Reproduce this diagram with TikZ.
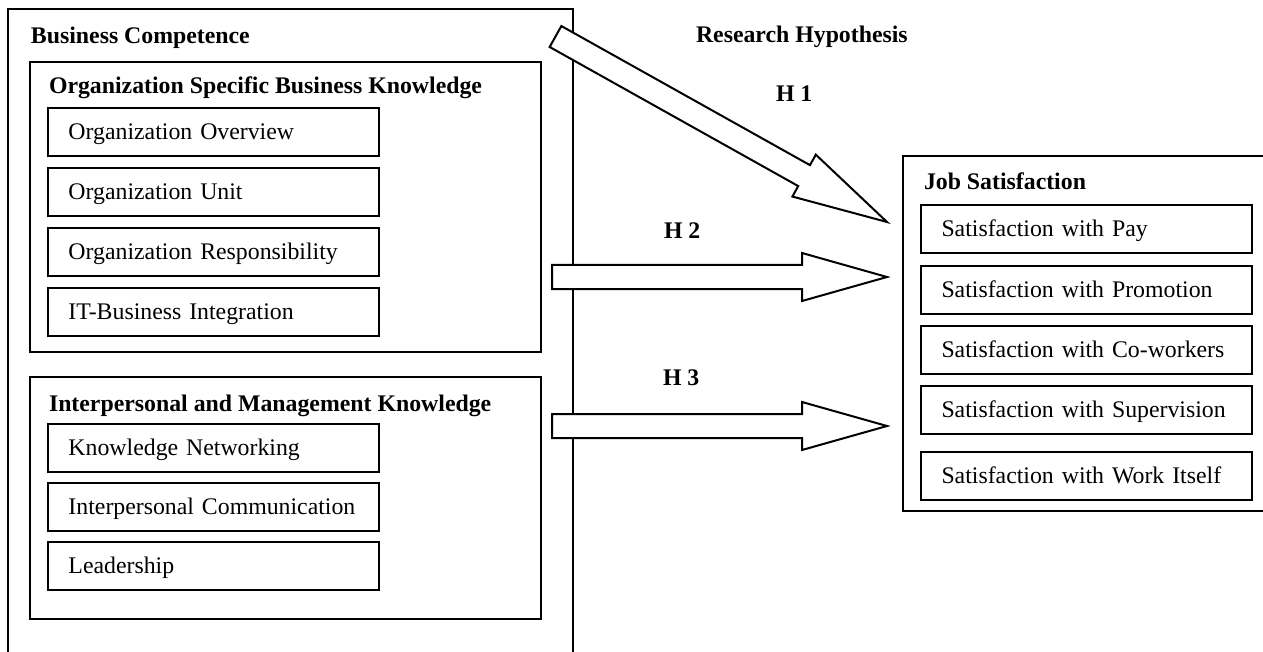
\documentclass[tikz,border=0pt]{standalone}
\usepackage{fontspec}
\setmainfont{Liberation Serif}
\usetikzlibrary{positioning, calc}

\tikzset{
  itembox/.style={draw, rectangle, anchor=north west, minimum width=165.5pt, minimum height=24pt,
    text width=145pt, text height=0.85em, text depth=0.1em, inner xsep=10pt, inner ysep=0pt,
    outer sep=0pt, align=left, font=\fontsize{11.9}{14}\selectfont},
  heading/.style={anchor=base west, inner sep=0pt, font=\fontsize{11.9}{14}\selectfont\bfseries},
  fatarrow/.style={draw, fill=white, line join=miter},
}

% block arrow: tail, tip, head length
\newcommand{\hyparrow}[3]{%
  \coordinate (headbase) at ($(#2)!#3!(#1)$);
  \draw[fatarrow] ($(#1)!6pt!90:(#2)$) -- ($(headbase)!6pt!90:(#2)$) -- ($(headbase)!12pt!90:(#2)$)
    -- (#2) -- ($(headbase)!12pt!-90:(#2)$) -- ($(headbase)!6pt!-90:(#2)$) -- ($(#1)!6pt!-90:(#2)$) -- cycle;
}

\begin{document}
\begin{tikzpicture}[x=0.5pt, y=-0.5pt, line width=1pt]
  \useasboundingbox (0,0) rectangle (1263,652);

  % business competence
  \draw (8,9) rectangle (573,690);
  \node[heading] (bc) at (30,44) {Business Competence};

  \draw (30,62) rectangle (541,352);
  \node[heading] (osbk) at (48,94) {Organization Specific Business Knowledge};
  \node[itembox] (ov) at (48,108) {Organization Overview};
  \node[itembox, below=6pt of ov] (unit) {Organization Unit};
  \node[itembox, below=6pt of unit] (resp) {Organization Responsibility};
  \node[itembox, below=6pt of resp] (itbi) {IT-Business Integration};

  \draw (30,377) rectangle (541,619);
  \node[heading] (imk) at (48,411) {Interpersonal and Management Knowledge};
  \node[itembox] (kn) at (48,424) {Knowledge Networking};
  \node[itembox, below=5.5pt of kn] (ic) {Interpersonal Communication};
  \node[itembox, below=5.5pt of ic] (lead) {Leadership};

  % job satisfaction
  \draw (903,156) rectangle (1270,511);
  \node[heading] (js) at (923,190) {Job Satisfaction};
  \node[itembox] (pay) at (921,205) {Satisfaction with Pay};
  \node[itembox, below=6.5pt of pay] (prom) {Satisfaction with Promotion};
  \node[itembox, below=6pt of prom] (cowork) {Satisfaction with Co-workers};
  \node[itembox, below=6pt of cowork] (superv) {Satisfaction with Supervision};
  \node[itembox, below=9pt of superv] (work) {Satisfaction with Work Itself};

  % hypotheses
  \node[heading] (research) at (695,43) {Research Hypothesis};
  \node[heading] (h1) at (775,102) {H 1};
  \node[heading] (h2) at (663,239) {H 2};
  \node[heading] (h3) at (662,385) {H 3};

  \coordinate (h1tail) at (555.5,36.5);
  \coordinate (h1tip) at (887,222);
  \coordinate (h2tail) at (552,277);
  \coordinate (h2tip) at (887,277);
  \coordinate (h3tail) at (552,426);
  \coordinate (h3tip) at (887,426);
  \hyparrow{h1tail}{h1tip}{47.5pt}
  \hyparrow{h2tail}{h2tip}{42.5pt}
  \hyparrow{h3tail}{h3tip}{42.5pt}
\end{tikzpicture}
\end{document}
